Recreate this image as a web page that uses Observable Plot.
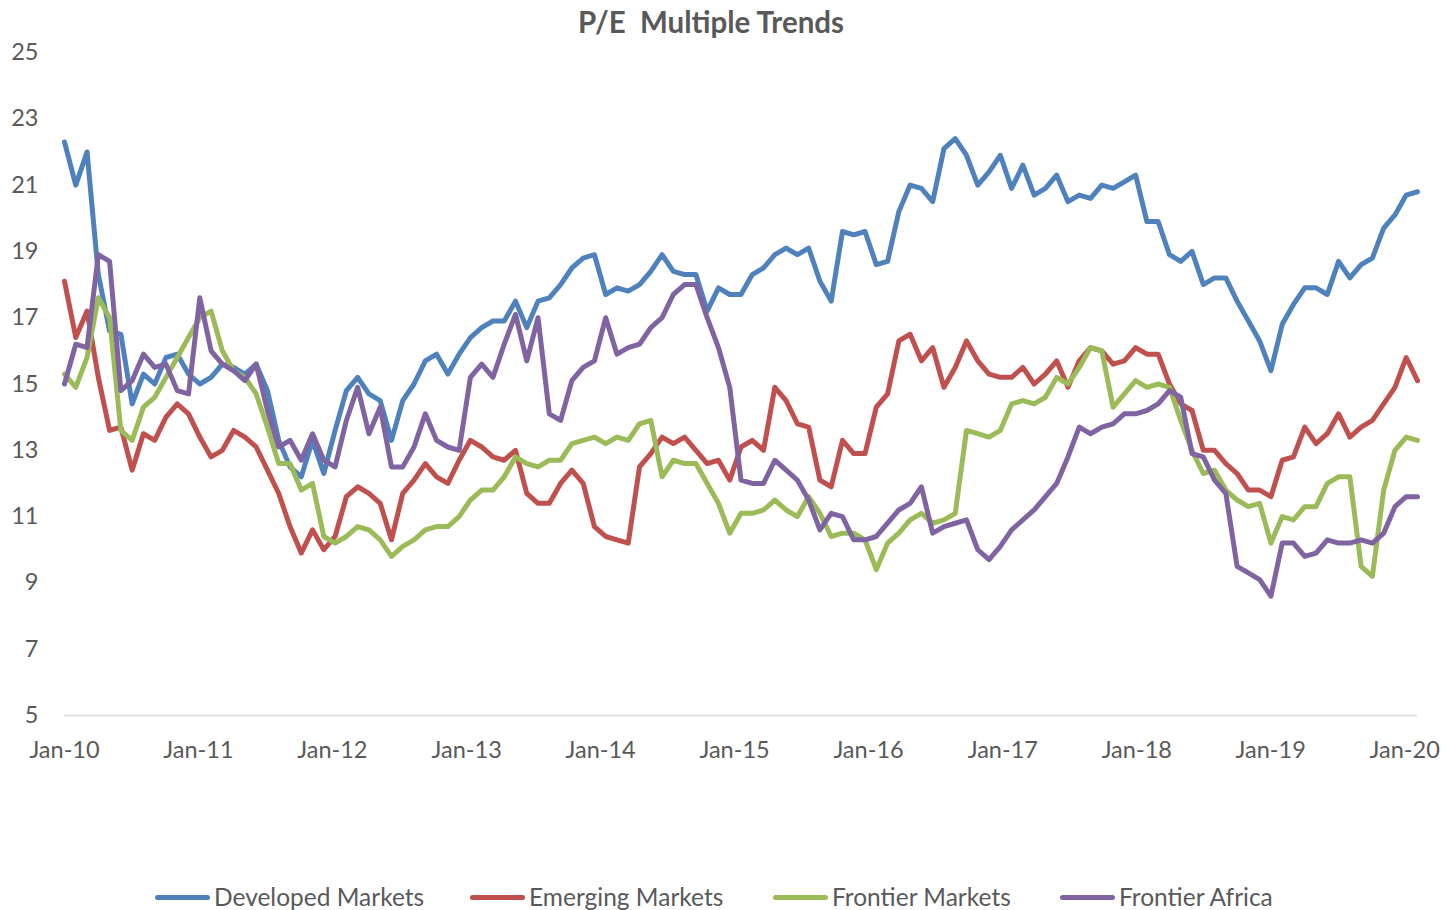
<!DOCTYPE html>
<html><head><meta charset="utf-8">
<script src="https://cdn.jsdelivr.net/npm/d3@7"></script>
<script src="https://cdn.jsdelivr.net/npm/@observablehq/plot@0.6"></script>
<style>
body{margin:0;background:#fff;font-family:Lato,"Open Sans",sans-serif;color:#595959;}
#wrap{position:relative;width:1447px;height:910px;overflow:hidden;background:#fff;}
#title{position:absolute;left:0;top:0;width:1422px;text-align:center;font-weight:bold;font-size:29.5px;line-height:44px;}
#chart{position:absolute;left:0;top:40px;}
.item{position:absolute;top:882px;display:flex;align-items:center;font-size:24.5px;line-height:30px;white-space:nowrap;}
.sw{width:55px;height:5px;border-radius:2.5px;margin-right:4px;}
</style>
</head><body>
<div id="wrap">
  <div id="title">P/E&nbsp; Multiple Trends</div>
  <div id="chart"></div>
  <div id="legend"></div>
</div>
<script>
// Series names and colours
const seriesNames = ["Developed Markets", "Emerging Markets", "Frontier Markets", "Frontier Africa"];
const seriesColors = ["#4F81BD", "#C0504D", "#9BBB59", "#8064A2"];
const legendLeft = [155, 470, 773, 1060];

// Time span of the observations (monthly readings, Jan 2010 to early Feb 2020)
const startDate = "2010-01-01";
const endDate = "2020-02-05";
const xTickDates = ["2010-01-01","2011-01-01","2012-01-01","2013-01-01","2014-01-01","2015-01-01","2016-01-01","2017-01-01","2018-01-01","2019-01-01","2020-01-01"];
const yTicks = [5, 7, 9, 11, 13, 15, 17, 19, 21, 23, 25];

const developed = [
  22.3, 21.0, 22.0, 18.3, 16.6, 16.5, 14.4, 15.3, 15.0, 15.8,
  15.9, 15.3, 15.0, 15.2, 15.6, 15.5, 15.3, 15.6, 14.8, 13.3,
  12.5, 12.2, 13.3, 12.3, 13.6, 14.8, 15.2, 14.7, 14.5, 13.3,
  14.5, 15.0, 15.7, 15.9, 15.3, 15.9, 16.4, 16.7, 16.9, 16.9,
  17.5, 16.7, 17.5, 17.6, 18.0, 18.5, 18.8, 18.9, 17.7, 17.9,
  17.8, 18.0, 18.4, 18.9, 18.4, 18.3, 18.3, 17.2, 17.9, 17.7,
  17.7, 18.3, 18.5, 18.9, 19.1, 18.9, 19.1, 18.1, 17.5, 19.6,
  19.5, 19.6, 18.6, 18.7, 20.2, 21.0, 20.9, 20.5, 22.1, 22.4,
  21.9, 21.0, 21.4, 21.9, 20.9, 21.6, 20.7, 20.9, 21.3, 20.5,
  20.7, 20.6, 21.0, 20.9, 21.1, 21.3, 19.9, 19.9, 18.9, 18.7,
  19.0, 18.0, 18.2, 18.2, 17.5, 16.9, 16.3, 15.4, 16.8, 17.4,
  17.9, 17.9, 17.7, 18.7, 18.2, 18.6, 18.8, 19.7, 20.1, 20.7, 20.8
];
const emerging = [
  18.1, 16.4, 17.2, 15.2, 13.6, 13.7, 12.4, 13.5, 13.3, 14.0,
  14.4, 14.1, 13.4, 12.8, 13.0, 13.6, 13.4, 13.1, 12.4, 11.7,
  10.7, 9.9, 10.6, 10.0, 10.4, 11.6, 11.9, 11.7, 11.4, 10.3,
  11.7, 12.1, 12.6, 12.2, 12.0, 12.7, 13.3, 13.1, 12.8, 12.7,
  13.0, 11.7, 11.4, 11.4, 12.0, 12.4, 12.0, 10.7, 10.4, 10.3,
  10.2, 12.5, 12.9, 13.4, 13.2, 13.4, 13.0, 12.6, 12.7, 12.1,
  13.1, 13.3, 13.0, 14.9, 14.5, 13.8, 13.7, 12.1, 11.9, 13.3,
  12.9, 12.9, 14.3, 14.7, 16.3, 16.5, 15.7, 16.1, 14.9, 15.5,
  16.3, 15.7, 15.3, 15.2, 15.2, 15.5, 15.0, 15.3, 15.7, 14.9,
  15.7, 16.1, 16.0, 15.6, 15.7, 16.1, 15.9, 15.9, 15.0, 14.4,
  14.2, 13.0, 13.0, 12.6, 12.3, 11.8, 11.8, 11.6, 12.7, 12.8,
  13.7, 13.2, 13.5, 14.1, 13.4, 13.7, 13.9, 14.4, 14.9, 15.8, 15.1
];
const frontier = [
  15.3, 14.9, 15.8, 17.6, 17.0, 13.6, 13.3, 14.3, 14.6, 15.2,
  15.8, 16.4, 17.0, 17.2, 16.0, 15.4, 15.2, 14.7, 13.7, 12.6,
  12.6, 11.8, 12.0, 10.4, 10.2, 10.4, 10.7, 10.6, 10.3, 9.8,
  10.1, 10.3, 10.6, 10.7, 10.7, 11.0, 11.5, 11.8, 11.8, 12.2,
  12.8, 12.6, 12.5, 12.7, 12.7, 13.2, 13.3, 13.4, 13.2, 13.4,
  13.3, 13.8, 13.9, 12.2, 12.7, 12.6, 12.6, 12.0, 11.4, 10.5,
  11.1, 11.1, 11.2, 11.5, 11.2, 11.0, 11.6, 11.1, 10.4, 10.5,
  10.5, 10.3, 9.4, 10.2, 10.5, 10.9, 11.1, 10.8, 10.9, 11.1,
  13.6, 13.5, 13.4, 13.6, 14.4, 14.5, 14.4, 14.6, 15.2, 15.0,
  15.5, 16.1, 16.0, 14.3, 14.7, 15.1, 14.9, 15.0, 14.9, 13.9,
  13.0, 12.3, 12.4, 11.8, 11.5, 11.3, 11.4, 10.2, 11.0, 10.9,
  11.3, 11.3, 12.0, 12.2, 12.2, 9.5, 9.2, 11.8, 13.0, 13.4, 13.3
];
const africa = [
  15.0, 16.2, 16.1, 18.9, 18.7, 14.8, 15.1, 15.9, 15.5, 15.6,
  14.8, 14.7, 17.6, 16.0, 15.6, 15.4, 15.1, 15.6, 14.2, 13.1,
  13.3, 12.7, 13.5, 12.7, 12.5, 13.9, 14.9, 13.5, 14.3, 12.5,
  12.5, 13.1, 14.1, 13.3, 13.1, 13.0, 15.2, 15.6, 15.2, 16.2,
  17.1, 15.7, 17.0, 14.1, 13.9, 15.1, 15.5, 15.7, 17.0, 15.9,
  16.1, 16.2, 16.7, 17.0, 17.7, 18.0, 18.0, 17.0, 16.1, 14.9,
  12.1, 12.0, 12.0, 12.7, 12.4, 12.1, 11.5, 10.6, 11.1, 11.0,
  10.3, 10.3, 10.4, 10.8, 11.2, 11.4, 11.9, 10.5, 10.7, 10.8,
  10.9, 10.0, 9.7, 10.1, 10.6, 10.9, 11.2, 11.6, 12.0, 12.8,
  13.7, 13.5, 13.7, 13.8, 14.1, 14.1, 14.2, 14.4, 14.8, 14.6,
  12.9, 12.8, 12.1, 11.7, 9.5, 9.3, 9.1, 8.6, 10.2, 10.2,
  9.8, 9.9, 10.3, 10.2, 10.2, 10.3, 10.2, 10.5, 11.3, 11.6, 11.6
];
const seriesValues = [developed, emerging, frontier, africa];

// Build table
const t0 = new Date(startDate + "T00:00:00Z").getTime();
const t1 = new Date(endDate + "T00:00:00Z").getTime();
const n = developed.length;
const dates = d3.range(n).map(i => new Date(t0 + i * (t1 - t0) / (n - 1)));
const rows = [];
seriesNames.forEach((name, s) => {
  seriesValues[s].forEach((v, i) => rows.push({series: name, date: dates[i], value: v}));
});

const plot = Plot.plot({
  width: 1447,
  height: 760,
  marginLeft: 64,
  marginRight: 30,
  marginTop: 12,
  marginBottom: 85,
  style: {fontFamily: "Lato, 'Open Sans', sans-serif", fontSize: "23.5px", color: "#595959", background: "white", overflow: "visible"},
  x: {type: "utc", domain: [new Date(t0), new Date(t1)], ticks: xTickDates.map(d => new Date(d + "T00:00:00Z")),
      tickFormat: d3.utcFormat("%b-%y"), tickSize: 0, tickPadding: 26, label: null},
  y: {domain: [5, 25], ticks: yTicks, tickSize: 0, tickPadding: 26, label: null},
  color: {domain: seriesNames, range: seriesColors},
  marks: [
    Plot.ruleY([5], {stroke: "#D9D9D9", strokeWidth: 1.5}),
    Plot.line(rows, {x: "date", y: "value", z: "series", stroke: "series", strokeWidth: 5,
      strokeLinejoin: "round", strokeLinecap: "round"})
  ]
});
document.getElementById("chart").appendChild(plot);

// Legend
const legend = document.getElementById("legend");
seriesNames.forEach((name, i) => {
  const item = document.createElement("div");
  item.className = "item";
  item.style.left = legendLeft[i] + "px";
  const sw = document.createElement("span");
  sw.className = "sw";
  sw.style.background = seriesColors[i];
  const tx = document.createElement("span");
  tx.textContent = name;
  item.appendChild(sw);
  item.appendChild(tx);
  legend.appendChild(item);
});
</script>
</body></html>
